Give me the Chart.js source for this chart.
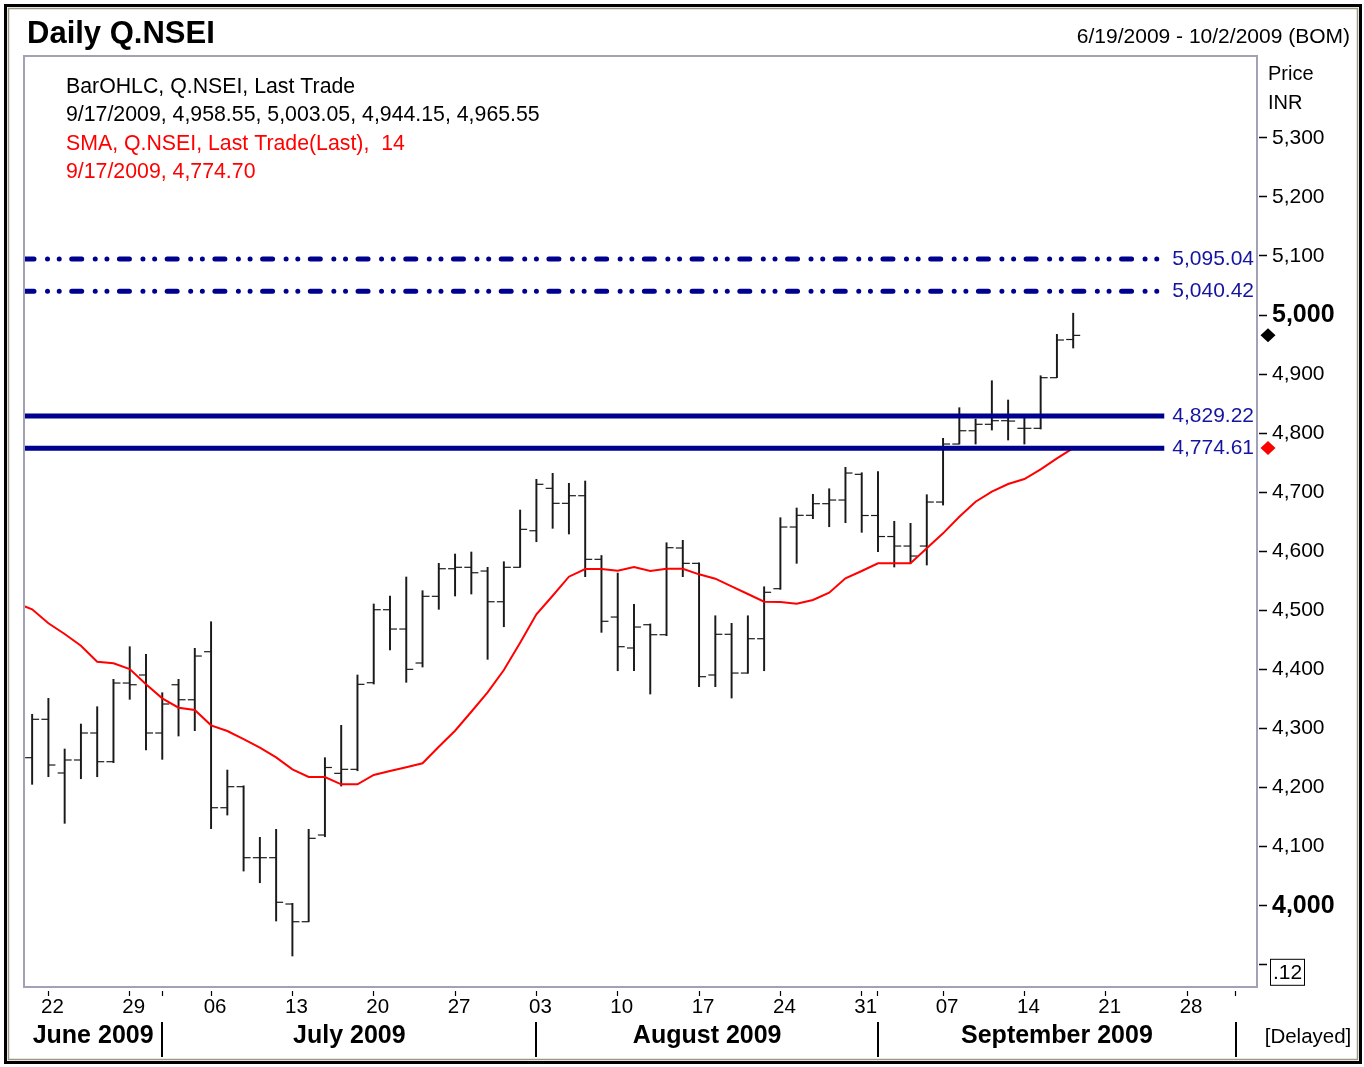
<!DOCTYPE html>
<html>
<head>
<meta charset="utf-8">
<script src="https://cdn.jsdelivr.net/npm/chart.js@4.4.1/dist/chart.umd.min.js"></script>
<style>
html,body{margin:0;padding:0;background:#fff;}
canvas{display:block;}
</style>
</head>
<body>
<canvas id="c" width="1364" height="1067"></canvas>
<script>
const FONT = "'Liberation Sans', Arial, Helvetica, sans-serif";

// Trading days (x index = position in this list)
const tradeDates = [
  '6/19/2009',
  '6/22/2009','6/23/2009','6/24/2009','6/25/2009','6/26/2009',
  '6/29/2009','6/30/2009','7/1/2009','7/2/2009','7/3/2009',
  '7/6/2009','7/7/2009','7/8/2009','7/9/2009','7/10/2009',
  '7/13/2009','7/14/2009','7/15/2009','7/16/2009','7/17/2009',
  '7/20/2009','7/21/2009','7/22/2009','7/23/2009','7/24/2009',
  '7/27/2009','7/28/2009','7/29/2009','7/30/2009','7/31/2009',
  '8/3/2009','8/4/2009','8/5/2009','8/6/2009','8/7/2009',
  '8/10/2009','8/11/2009','8/12/2009','8/13/2009','8/14/2009',
  '8/17/2009','8/18/2009','8/19/2009','8/20/2009','8/21/2009',
  '8/24/2009','8/25/2009','8/26/2009','8/27/2009','8/28/2009',
  '8/31/2009','9/1/2009','9/2/2009','9/3/2009','9/4/2009',
  '9/7/2009','9/8/2009','9/9/2009','9/10/2009','9/11/2009',
  '9/14/2009','9/15/2009','9/16/2009','9/17/2009'
];

const opens = [
  4250.6, 4315.6, 4224.7, 4246.7, 4292.4,
  4243.8, 4377.0, 4390.6, 4292.4, 4374.1,
  4348.7, 4430.0, 4165.9, 4201.5, 4081.3,
  4081.3, 4002.9, 3972.9, 4119.7, 4224.1,
  4230.9, 4377.5, 4501.1, 4468.4, 4410.9,
  4523.8, 4570.5, 4572.9, 4566.6, 4514.6,
  4572.9, 4634.8, 4706.6, 4681.2, 4694.1,
  4586.4, 4488.7, 4436.3, 4475.7, 4458.8,
  4605.6, 4579.6, 4390.6, 4459.5, 4393.9,
  4452.0, 4536.7, 4641.1, 4660.9, 4680.6,
  4686.8, 4730.3, 4660.6, 4625.0, 4608.9,
  4608.9, 4683.4, 4781.6, 4804.1, 4815.0,
  4821.1, 4808.2, 4808.2, 4893.9, 4958.55
];
const highs = [
  4324.0, 4351.1, 4265.3, 4307.6, 4336.9,
  4383.3, 4438.5, 4425.6, 4360.6, 4383.3,
  4435.8, 4480.8, 4229.7, 4203.0, 4115.8,
  4129.3, 4004.0, 4129.3, 4250.6, 4305.4,
  4390.6, 4510.8, 4524.3, 4556.5, 4533.3,
  4579.6, 4595.4, 4598.8, 4572.9, 4582.4,
  4669.9, 4721.9, 4732.0, 4715.1, 4719.0,
  4592.9, 4563.2, 4510.2, 4477.0, 4614.5,
  4618.6, 4580.5, 4490.9, 4478.1, 4490.9,
  4540.0, 4656.9, 4673.3, 4696.5, 4705.9,
  4742.2, 4733.0, 4735.1, 4650.8, 4647.4,
  4695.8, 4791.3, 4843.1, 4823.9, 4888.8,
  4856.1, 4826.8, 4897.2, 4967.3, 5003.05
];
const lows = [
  4205.5, 4218.4, 4139.5, 4215.0, 4218.4,
  4242.1, 4349.4, 4263.6, 4247.8, 4287.3,
  4296.3, 4130.4, 4153.5, 4058.7, 4038.9,
  3974.1, 3914.9, 3972.9, 4116.8, 4202.6,
  4228.5, 4375.3, 4432.9, 4378.2, 4404.1,
  4501.8, 4524.3, 4527.7, 4417.1, 4472.3,
  4572.9, 4616.2, 4638.9, 4629.3, 4557.0,
  4462.8, 4397.8, 4397.8, 4358.4, 4457.1,
  4557.0, 4370.8, 4370.8, 4351.6, 4393.4,
  4397.8, 4535.6, 4579.6, 4655.2, 4641.6,
  4648.4, 4632.1, 4599.3, 4573.4, 4579.6,
  4576.8, 4678.3, 4781.6, 4781.6, 4805.3,
  4788.4, 4781.6, 4807.0, 4893.9, 4944.15
];
const closes = [
  4315.6, 4238.2, 4246.7, 4292.4, 4243.8,
  4377.0, 4374.1, 4292.4, 4341.5, 4348.7,
  4422.7, 4165.9, 4201.5, 4081.3, 4081.3,
  4005.8, 3972.9, 4114.1, 4234.0, 4230.9,
  4374.8, 4501.1, 4468.4, 4400.2, 4523.8,
  4570.5, 4572.9, 4563.7, 4514.6, 4572.9,
  4637.2, 4713.4, 4681.2, 4694.1, 4586.4,
  4481.5, 4438.5, 4471.8, 4458.8, 4606.1,
  4579.6, 4387.7, 4459.5, 4393.9, 4452.0,
  4530.6, 4641.1, 4660.9, 4680.6, 4686.8,
  4732.5, 4660.6, 4625.0, 4608.9, 4592.0,
  4683.4, 4781.6, 4804.1, 4815.0, 4821.1,
  4820.5, 4808.2, 4893.9, 4957.7, 4965.55
];

// 14-day SMA; first value belongs to the day before 6/19
const smaStartIndex = -1;
const smaValues = [
  4512.6,
  4501.8, 4478.1, 4460.0, 4440.2, 4413.1,
  4410.4, 4400.7, 4374.8, 4351.1, 4335.2,
  4331.3, 4305.4, 4295.8, 4282.2, 4267.5,
  4251.2, 4230.9, 4217.9, 4217.9, 4205.5,
  4205.5, 4221.3, 4228.0, 4234.3, 4241.1,
  4269.2, 4296.3, 4328.4, 4361.3, 4399.0,
  4445.2, 4493.3, 4524.8, 4557.0, 4570.0,
  4570.0, 4567.1, 4573.4, 4566.6, 4570.5,
  4570.5, 4561.0, 4553.6, 4540.7, 4527.7,
  4514.6, 4514.1, 4511.3, 4517.5, 4529.9,
  4554.3, 4566.6, 4579.6, 4579.6, 4579.6,
  4605.0, 4630.4, 4658.5, 4683.9, 4700.9,
  4713.9, 4722.4, 4738.8, 4757.4, 4774.70
];

// Horizontal reference lines
const levelValues = [5095.04, 5040.42, 4829.22, 4774.61];
const levelKinds  = ['dashdot', 'dashdot', 'solid', 'solid'];
const levelEndIndex = 69.6;

// Axes
const yTickValues = [3900, 4000, 4100, 4200, 4300, 4400, 4500, 4600, 4700, 4800, 4900, 5000, 5100, 5200, 5300];
const weekTickIndex = [1, 6, 11, 16, 21, 26, 31, 36, 41, 46, 51, 56, 61, 66, 71];
const weekTickText  = ['22','29','06','13','20','27','03','10','17','24','31','07','14','21','28'];
const monthBoundIndex = [8, 31, 52, 74];
const monthNames = ['June 2009', 'July 2009', 'August 2009', 'September 2009'];
const xMin = -0.5, xMax = 75.3;
const yMin = 3862.4, yMax = 5438.5;

const xLabelMap = {};
weekTickIndex.forEach((i, k) => { xLabelMap[i] = weekTickText[k]; });
const allXTicks = Array.from(new Set(weekTickIndex.concat(monthBoundIndex))).sort((a, b) => a - b);

const fmt2 = v => v.toLocaleString('en-US', {minimumFractionDigits: 2, maximumFractionDigits: 2});

const levelDatasets = levelValues.map((v, k) => ({
  type: 'line',
  data: [{x: xMin, y: v}, {x: levelEndIndex, y: v}],
  borderColor: '#00008f',
  borderWidth: 5,
  borderCapStyle: levelKinds[k] === 'dashdot' ? 'round' : 'butt',
  borderDash: levelKinds[k] === 'dashdot' ? [10, 13.5, 0.01, 11.7, 0.01, 12.5] : [],
  pointRadius: 0,
  order: 0
}));

const deco = {
  id: 'deco',
  beforeDraw(chart) {
    const ctx = chart.ctx;
    ctx.save();
    ctx.fillStyle = '#ffffff';
    ctx.fillRect(0, 0, chart.width, chart.height);
    ctx.restore();
  },
  afterDatasetsDraw(chart) {
    const ctx = chart.ctx;
    const a = chart.chartArea;
    const ys = chart.scales.y;
    ctx.save();
    // plot frame
    ctx.strokeStyle = '#a2a2b6';
    ctx.lineWidth = 2;
    ctx.strokeRect(a.left, a.top, a.right - a.left, a.bottom - a.top);
    // level labels
    ctx.font = '21px ' + FONT;
    ctx.fillStyle = '#1414a0';
    ctx.textAlign = 'right';
    ctx.textBaseline = 'middle';
    levelValues.forEach(v => {
      ctx.fillText(fmt2(v), a.right - 3, ys.getPixelForValue(v));
    });
    // diamonds on the price axis
    const diamond = (val, color) => {
      const y = ys.getPixelForValue(val);
      const x = a.right + 11;
      ctx.beginPath();
      ctx.moveTo(x, y - 7);
      ctx.lineTo(x + 7.5, y);
      ctx.lineTo(x, y + 7);
      ctx.lineTo(x - 7.5, y);
      ctx.closePath();
      ctx.fillStyle = color;
      ctx.fill();
    };
    diamond(closes[closes.length - 1], '#000000');
    diamond(smaValues[smaValues.length - 1], '#ff0000');
    ctx.restore();
  },
  afterDraw(chart) {
    const ctx = chart.ctx;
    const a = chart.chartArea;
    const xs = chart.scales.x;
    const ys = chart.scales.y;
    ctx.save();
    // outer frame
    ctx.strokeStyle = '#000';
    ctx.lineWidth = 3;
    ctx.strokeRect(5.5, 5.5, 1355, 1057);
    ctx.strokeStyle = '#9a9880';
    ctx.lineWidth = 1.5;
    ctx.strokeRect(8.5, 8.5, 1349, 1051);

    ctx.textBaseline = 'middle';
    // title
    ctx.fillStyle = '#000';
    ctx.textAlign = 'left';
    ctx.font = 'bold 31px ' + FONT;
    ctx.fillText('Daily Q.NSEI', 27, 34);
    ctx.textAlign = 'right';
    ctx.font = '21px ' + FONT;
    ctx.fillText('6/19/2009 - 10/2/2009 (BOM)', 1350, 37);

    // legend block
    const last = closes.length - 1;
    const legend = [
      ['BarOHLC, Q.NSEI, Last Trade', '#000'],
      [tradeDates[last] + ', ' + fmt2(opens[last]) + ', ' + fmt2(highs[last]) + ', ' + fmt2(lows[last]) + ', ' + fmt2(closes[last]), '#000'],
      ['SMA, Q.NSEI, Last Trade(Last),  14', '#ff0000'],
      [tradeDates[last] + ', ' + fmt2(smaValues[smaValues.length - 1]), '#ff0000']
    ];
    ctx.textAlign = 'left';
    ctx.font = '21.3px ' + FONT;
    const ly = [87, 115, 144, 172];
    legend.forEach((l, k) => { ctx.fillStyle = l[1]; ctx.fillText(l[0], 66, ly[k]); });

    // price axis header
    ctx.fillStyle = '#000';
    ctx.font = '20px ' + FONT;
    ctx.fillText('Price', 1268, 74);
    ctx.fillText('INR', 1268, 103);

    // scale marker box
    const yb = ys.getPixelForValue(3900);
    ctx.lineWidth = 1;
    ctx.strokeStyle = '#000';
    ctx.strokeRect(1270.5, yb - 5.5, 34, 26);
    ctx.font = '21px ' + FONT;
    ctx.fillText('.12', 1273, yb + 8);

    // month labels and separators
    ctx.font = 'bold 25px ' + FONT;
    ctx.textAlign = 'center';
    const bounds = [a.left].concat(monthBoundIndex.map(i => xs.getPixelForValue(i)));
    monthNames.forEach((m, k) => {
      ctx.fillText(m, (bounds[k] + bounds[k + 1]) / 2, 1036);
    });
    ctx.lineWidth = 2;
    monthBoundIndex.forEach(i => {
      const x = Math.round(xs.getPixelForValue(i));
      ctx.beginPath();
      ctx.moveTo(x, 1022);
      ctx.lineTo(x, 1057);
      ctx.stroke();
    });
    ctx.font = '20.5px ' + FONT;
    ctx.fillText('[Delayed]', 1308, 1037);
    ctx.restore();
  }
};

new Chart(document.getElementById('c'), {
  type: 'bar',
  data: {
    datasets: [
      ...levelDatasets,
      {
        type: 'line',
        data: smaValues.map((v, k) => ({x: smaStartIndex + k, y: v})),
        borderColor: '#ff0000',
        borderWidth: 2,
        pointRadius: 0,
        tension: 0,
        order: 1
      },
      {
        type: 'scatter',
        data: opens.map((v, i) => ({x: i, y: v})),
        pointStyle: 'dash',
        pointRotation: 180,
        pointRadius: 7,
        pointHoverRadius: 7,
        pointBorderColor: '#1a1a1a',
        pointBorderWidth: 1.2,
        order: 2
      },
      {
        type: 'scatter',
        data: closes.map((v, i) => ({x: i, y: v})),
        pointStyle: 'dash',
        pointRotation: 0,
        pointRadius: 7,
        pointHoverRadius: 7,
        pointBorderColor: '#1a1a1a',
        pointBorderWidth: 1.2,
        order: 2
      },
      {
        type: 'bar',
        data: lows.map((l, i) => ({x: i, y: [l, highs[i]]})),
        barThickness: 1.3,
        backgroundColor: '#1a1a1a',
        borderWidth: 0,
        order: 3
      }
    ]
  },
  options: {
    responsive: false,
    animation: false,
    events: [],
    devicePixelRatio: 1,
    layout: {padding: {left: 24, top: 56, right: 0, bottom: 0}},
    plugins: {legend: {display: false}, tooltip: {enabled: false}, title: {display: false}},
    scales: {
      x: {
        type: 'linear',
        position: 'bottom',
        min: xMin,
        max: xMax,
        offset: false,
        afterFit: s => { s.height = 80; },
        afterBuildTicks: s => { s.ticks = allXTicks.map(v => ({value: v})); },
        grid: {
          display: true, offset: false, drawOnChartArea: false, drawTicks: true,
          tickLength: 9, tickColor: '#000', tickWidth: 1.2, tickBorderDash: [0, 4, 5, 100]
        },
        border: {display: false},
        ticks: {
          autoSkip: false, maxRotation: 0, minRotation: 0, padding: -1, labelOffset: 4,
          color: '#000', font: {family: FONT, size: 20.5},
          callback: v => (xLabelMap[v] !== undefined ? xLabelMap[v] : '')
        }
      },
      y: {
        type: 'linear',
        position: 'right',
        min: yMin,
        max: yMax,
        afterFit: s => { s.width = 107; },
        afterBuildTicks: s => { s.ticks = yTickValues.map(v => ({value: v})); },
        grid: {
          display: true, drawOnChartArea: false, drawTicks: true,
          tickLength: 10, tickColor: '#000', tickWidth: 1.5, tickBorderDash: [0, 2, 8, 100]
        },
        border: {display: false},
        ticks: {
          padding: 5,
          color: '#000',
          font: c => (c.tick && c.tick.value % 1000 === 0)
            ? {family: FONT, size: 25, weight: 'bold'}
            : {family: FONT, size: 21},
          callback: v => (v === 3900 ? '' : v.toLocaleString('en-US'))
        }
      }
    }
  },
  plugins: [deco]
});
</script>
</body>
</html>
